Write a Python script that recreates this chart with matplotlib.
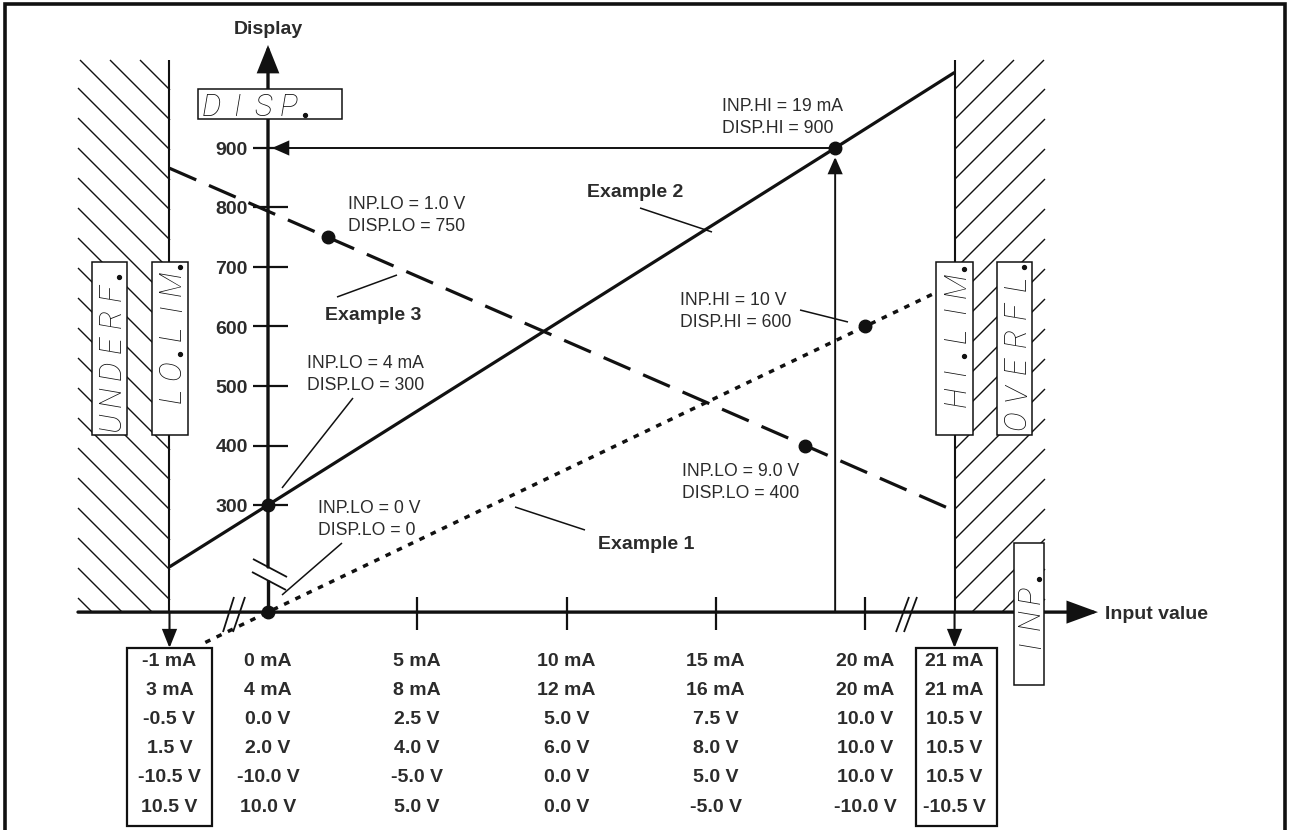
import numpy as np
import matplotlib
matplotlib.use("Agg")
import matplotlib.pyplot as plt
from matplotlib.patches import Rectangle

plt.rcParams["lines.scale_dashes"] = False
plt.rcParams["font.family"] = ["Liberation Sans", "DejaVu Sans"]

# ---------------- chart data ----------------
display_ticks = [300, 400, 500, 600, 700, 800, 900]
# horizontal scale positions are given in units of the first row (0 ... 20 mA)
input_ticks = [5, 10, 15, 20]
column_pos = [-3.3, 0, 5, 10, 15, 20, 23.0]
row_ma1 = ["-1 mA", "0 mA", "5 mA", "10 mA", "15 mA", "20 mA", "21 mA"]
row_ma2 = ["3 mA", "4 mA", "8 mA", "12 mA", "16 mA", "20 mA", "21 mA"]
row_v1 = ["-0.5 V", "0.0 V", "2.5 V", "5.0 V", "7.5 V", "10.0 V", "10.5 V"]
row_v2 = ["1.5 V", "2.0 V", "4.0 V", "6.0 V", "8.0 V", "10.0 V", "10.5 V"]
row_v3 = ["-10.5 V", "-10.0 V", "-5.0 V", "0.0 V", "5.0 V", "10.0 V", "10.5 V"]
row_v4 = ["10.5 V", "10.0 V", "5.0 V", "0.0 V", "-5.0 V", "-10.0 V", "-10.5 V"]
table_rows = [row_ma1, row_ma2, row_v1, row_v2, row_v3, row_v4]

lo_limit = -3.3    # -1 mA column (UNDERF / LO.LIM boundary)
hi_limit = 23.0    # 21 mA column (HI.LIM / OVERFL boundary)
axis_level = 120   # display 0 is drawn on the input axis (broken display scale)

# Example 1 (dotted): INP.LO = 0 V -> 0, INP.HI = 10 V -> 600
ex1_x = [-2.1, 0, 20, 23.0]
ex1_y = [69, 120, 600, 672]
# Example 2 (solid): INP.LO = 4 mA -> 300, INP.HI = 19 mA -> 900
ex2_x = [-3.3, 0, 19, 23.0]
ex2_y = [196, 300, 900, 1027]
# Example 3 (dashed): INP.LO = 1.0 V -> 750, INP.LO = 9.0 V -> 400
ex3_x = [-3.3, 2, 18, 23.0]
ex3_y = [866, 750, 400, 290]

point_x = [0, 19, 2, 18, 20, 0]
point_y = [300, 900, 750, 400, 600, 120]

annotations = [
    ("INP.HI = 19 mA", "DISP.HI = 900"),
    ("INP.LO = 1.0 V", "DISP.LO = 750"),
    ("INP.HI = 10 V", "DISP.HI = 600"),
    ("INP.LO = 4 mA", "DISP.LO = 300"),
    ("INP.LO = 9.0 V", "DISP.LO = 400"),
    ("INP.LO = 0 V", "DISP.LO = 0"),
]
example_labels = ["Example 2", "Example 3", "Example 1"]

# ---------------- figure / scales ----------------
fig = plt.figure(figsize=(12.9, 8.3), dpi=100, facecolor="white")
ax = fig.add_axes([0, 0, 1, 1])
ax.set_axis_off()
X0, SX, Y0, SY = 268.0, 29.85, 505.0, 0.595


def dx(px):
    return (np.asarray(px, float) - X0) / SX


def dy(py):
    return 300.0 + (Y0 - np.asarray(py, float)) / SY


ax.set_xlim(dx(0), dx(1290))
ax.set_ylim(dy(830), dy(0))

INK = "#111111"
TXT = "#2b2b2b"


def seg(p0, p1, lw=1.0, z=3):
    ax.plot([dx(p0[0]), dx(p1[0])], [dy(p0[1]), dy(p1[1])], color=INK, lw=lw,
            zorder=z, solid_capstyle="butt")


def rect(x0, y0, x1, y1, lw=1.1, z=5):
    ax.add_patch(Rectangle((dx(x0), dy(y1)), dx(x1) - dx(x0), dy(y0) - dy(y1),
                           facecolor="white", edgecolor=INK, lw=lw, zorder=z))


def arrow(p_from, p_to, lw=1.3, hl=0.5, hw=0.22, z=4):
    ax.annotate("", xy=p_to, xytext=p_from,
                arrowprops=dict(arrowstyle=f"-|>,head_length={hl},head_width={hw}",
                                mutation_scale=20, lw=lw, color=INK,
                                shrinkA=0, shrinkB=0, joinstyle="miter"),
                zorder=z)


def hatch(x0, x1, y0, y1, sign, c0, step=30):
    if sign > 0:
        cmin, cmax = y0 - x1, y1 - x0
    else:
        cmin, cmax = x0 + y0, x1 + y1
    k0 = int(np.floor((cmin - c0) / step))
    k1 = int(np.ceil((cmax - c0) / step))
    for k in range(k0, k1 + 1):
        c = c0 + k * step
        if sign > 0:
            a, b = max(x0, y0 - c), min(x1, y1 - c)
            if b > a:
                seg((a, a + c), (b, b + c), lw=1.0, z=1)
        else:
            a, b = max(x0, c - y1), min(x1, c - y0)
            if b > a:
                seg((a, c - a), (b, c - b), lw=1.0, z=1)


# outer frame
ax.plot([dx(5), dx(5), dx(1285), dx(1285)], [dy(850), dy(4), dy(4), dy(850)],
        color=INK, lw=2.6, zorder=2, solid_joinstyle="miter")

# hatched out-of-range zones
hatch(78, 170, 60, 612, +1, -20)
hatch(955, 1045, 60, 612, -1, 1044)
ax.vlines([lo_limit, hi_limit], axis_level, dy(60), color=INK, lw=1.5, zorder=2)
arrow((lo_limit, axis_level), (lo_limit, dy(648)), lw=1.5, hl=0.55, hw=0.22)
arrow((hi_limit, axis_level), (hi_limit, dy(648)), lw=1.5, hl=0.55, hw=0.22)

# axes
arrow((dx(78), axis_level), (dx(1098), axis_level), lw=2.4, hl=0.9, hw=0.33, z=3)
ax.plot([0, 0], [axis_level, dy(580)], color=INK, lw=2.4, zorder=3, solid_capstyle="butt")
arrow((0, dy(567)), (0, dy(45)), lw=2.4, hl=0.8, hw=0.32, z=3)
ax.hlines(display_ticks, dx(253), dx(288), color=INK, lw=1.6, zorder=3)
ax.vlines(input_ticks, dy(630), dy(597), color=INK, lw=1.6, zorder=3)

# axis breaks
seg((253, 559), (287, 577), lw=1.3)
seg((252, 572), (286, 590), lw=1.3)
seg((223, 632), (234, 597), lw=1.3)
seg((233, 632), (245, 597), lw=1.3)
seg((896, 632), (909, 597), lw=1.3)
seg((904, 632), (917, 597), lw=1.3)

BOLD = dict(fontsize=14, fontweight="bold", color=TXT)
REG = dict(fontsize=12.7, color=TXT)
CAPB = 7.0 / SY   # half cap height of the bold text, in display units

for v in display_ticks:
    ax.text(dx(248), v - CAPB, str(v), ha="right", va="baseline", zorder=6, **BOLD)
ax.text(0, dy(34), "Display", ha="center", va="baseline", zorder=6, **BOLD)
ax.text(dx(1105), axis_level - CAPB, "Input value", ha="left", va="baseline", zorder=6, **BOLD)

# examples
ax.plot(ex2_x, ex2_y, color=INK, lw=2.3, zorder=4, solid_capstyle="butt")
ax.plot(ex3_x, ex3_y, color=INK, lw=2.3, zorder=4, linestyle=(0, (21, 10)))
ax.plot(ex1_x, ex1_y, color=INK, lw=2.5, zorder=4, linestyle=(0, (4, 5)))
ax.plot(point_x, point_y, "o", ms=9, color=INK, zorder=8)

# reference arrows for DISP.HI = 900
arrow((point_x[1], axis_level), (point_x[1], point_y[1] - 9 / SY), lw=1.4)
arrow((point_x[1], point_y[1]), (dx(272), point_y[1]), lw=1.4)

# annotation texts
ann_pos = [(722, 105), (348, 203), (680, 299), (307, 362), (682, 470), (318, 507)]
for (l1, l2), (px, py) in zip(annotations, ann_pos):
    ax.text(dx(px), dy(py + 6.3), l1, ha="left", va="baseline", zorder=6, **REG)
    ax.text(dx(px), dy(py + 21.5 + 6.3), l2, ha="left", va="baseline", zorder=6, **REG)
ex_pos = [(587, 190), (325, 313), (598, 542)]
for s, (px, py) in zip(example_labels, ex_pos):
    ax.text(dx(px), dy(py + 7), s, ha="left", va="baseline", zorder=6, **BOLD)

leaders = [((640, 208), (712, 232)), ((337, 297), (397, 275)), ((515, 507), (585, 530)),
           ((353, 398), (282, 488)), ((342, 543), (282, 595)), ((800, 310), (848, 322))]
for a, b in leaders:
    seg(a, b, lw=1.1, z=3)

# input scale table
row_py = [659, 688, 717, 746, 775, 805]
for r, row in enumerate(table_rows):
    for c, s in enumerate(row):
        ax.text(column_pos[c], dy(row_py[r] + 7), s, ha="center", va="baseline", zorder=6, **BOLD)
rect(127, 648, 212, 826, lw=1.6)
rect(916, 648, 997, 826, lw=1.6)

# LCD style display boxes
LCD = dict(family=["Roboto", "DejaVu Sans"], style="italic", weight="light",
           fontsize=22, color=INK)
CAP = 22 * 100 / 72 * 0.711


def lcd(text, fixed, start, pitch, vertical, dot_gap=12, dot_off=16):
    pos, prev = start, start
    step = -1 if vertical else 1
    for ch in text:
        if ch == ".":
            if vertical:
                ax.plot(dx(fixed + CAP / 2 - 1), dy(prev - dot_off), "o", ms=2.8,
                        color=INK, zorder=7)
            else:
                ax.plot(dx(prev + dot_off), dy(fixed - 1), "o", ms=2.8, color=INK, zorder=7)
            pos += step * dot_gap
            continue
        if vertical:
            ax.text(dx(fixed + CAP / 2), dy(pos), ch, rotation=90, rotation_mode="anchor",
                    ha="center", va="baseline", zorder=7, **LCD)
        else:
            ax.text(dx(pos), dy(fixed), ch, ha="center", va="baseline", zorder=7, **LCD)
        prev = pos
        pos += step * pitch


rect(198, 89, 342, 119)
lcd("DISP.", 116, 211, 26, False)
rect(92, 262, 127, 435)
lcd("UNDERF.", 109.5, 422, 25.8, True)
rect(152, 262, 188, 435)
lcd("LO.LIM.", 170, 395, 25, True)
rect(936, 262, 973, 435)
lcd("HI.LIM.", 954.5, 397, 25, True)
rect(997, 262, 1032, 435)
lcd("OVERFL.", 1014.5, 420, 27.4, True)
rect(1014, 543, 1044, 685)
lcd("INP.", 1029, 645, 25, True)

fig.savefig("out.png", dpi=100, facecolor="white")
